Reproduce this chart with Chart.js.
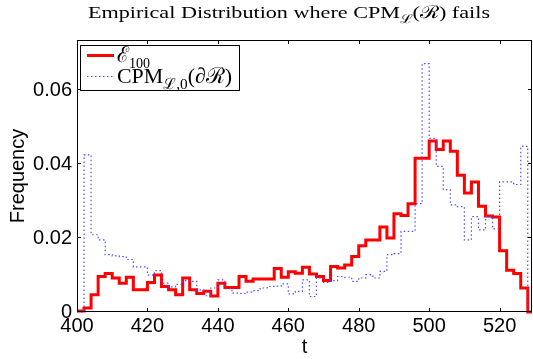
<!DOCTYPE html>
<html><head><meta charset="utf-8">
<script src="https://cdn.jsdelivr.net/npm/chart.js@4.4.0/dist/chart.umd.min.js"></script>
<style>html,body{margin:0;padding:0;background:#fff;}#wrap{width:533px;height:359px;}</style>
</head><body><div id="wrap"><canvas id="c" width="533" height="359"></canvas></div>
<script>
// ---- data ----
const binEdges = [400,402,404,406,408,410,412,414,416,418,420,422,424,426,428,430,432,434,436,438,
  440,442,444,446,448,450,452,454,456,458,460,462,464,466,468,470,472,474,476,478,
  480,482,484,486,488,490,492,494,496,498,500,502,504,506,508,510,512,514,516,518,
  520,522,524,526,528,530];
const e100 = [0.0003,0.0011,0.0047,0.0096,0.0104,0.0092,0.0078,0.0094,0.0060,0.0060,
  0.0080,0.0100,0.0069,0.0060,0.0047,0.0092,0.0060,0.0050,0.0056,0.0043,
  0.0078,0.0066,0.0066,0.0096,0.0083,0.0089,0.0089,0.0089,0.0118,0.0094,
  0.0109,0.0105,0.0121,0.0103,0.0096,0.0085,0.0123,0.0119,0.0127,0.0150,
  0.0179,0.0195,0.0195,0.0230,0.0200,0.0266,0.0261,0.0293,0.0416,0.0416,
  0.0463,0.0440,0.0463,0.0435,0.0370,0.0322,0.0352,0.0286,0.0260,0.0257,
  0.0166,0.0113,0.0104,0.0065,0];
const cpm = [0,0.0425,0.0209,0.0195,0.0155,0.0152,0.0150,0.0142,0.0122,0.0122,
  0.0100,0.0112,0.0078,0.0068,0.0075,0.0085,0.0083,0.0060,0.0044,0.0065,
  0.0087,0.0063,0.0051,0.0050,0.0054,0.0058,0.0065,0.0069,0.0070,0.0076,
  0.0049,0.0056,0.0087,0.0042,0.0092,0.0080,0.0085,0.0096,0.0094,0.0083,
  0.0092,0.0101,0.0092,0.0110,0.0155,0.0158,0.0218,0.0218,0.0293,0.0672,
  0.0470,0.0394,0.0331,0.0290,0.0285,0.0195,0.0258,0.0222,0.0258,0.0225,
  0.0352,0.0352,0.0345,0.0448,0];
const xTicks = [400,420,440,460,480,500,520];
const yTicks = [0,0.02,0.04,0.06];
const xRange = [400,529.2];
const yRange = [0,0.0736];

// step series: value i holds on [edge i, edge i+1]
function stepPoints(vals){
  const pts = vals.map((v,i)=>({x:binEdges[i], y:v}));
  pts.push({x:binEdges[vals.length], y:vals[vals.length-1]});
  return pts;
}

const SERIF = "'Liberation Serif','DejaVu Serif',serif";
const SANS = "'Liberation Sans',Arial,sans-serif";

// rich text (with subscripts) fitted to a target width
function drawRich(ctx, parts, x, baseline, targetW, em){
  let w = 0;
  const sized = parts.map(p=>{
    const size = em*(p.sub?0.7:1);
    ctx.font = size+'px '+SERIF;
    const mw = ctx.measureText(p.t).width;
    w += mw;
    return {t:p.t, size, mw, dy: p.sub? em*0.28 : 0};
  });
  const sx = targetW / w;
  ctx.save();
  ctx.translate(x, baseline);
  ctx.scale(sx, 1);
  ctx.fillStyle = '#000';
  ctx.textBaseline = 'alphabetic';
  ctx.textAlign = 'left';
  let cx = 0;
  sized.forEach(p=>{
    ctx.font = p.size+'px '+SERIF;
    ctx.fillText(p.t, cx, p.dy);
    cx += p.mw;
  });
  ctx.restore();
}

const decor = {
  id:'decor',
  afterDraw(chart){
    const ctx = chart.ctx, a = chart.chartArea, xs = chart.scales.x, ys = chart.scales.y;
    ctx.save();
    ctx.strokeStyle = '#000'; ctx.lineWidth = 1;
    ctx.strokeRect(a.left+0.5, a.top+0.5, a.right-a.left-1, a.bottom-a.top-1);
    const TL = 4;
    ctx.beginPath();
    xTicks.forEach(v=>{
      const px = Math.round(xs.getPixelForValue(v))+0.5;
      ctx.moveTo(px, a.bottom); ctx.lineTo(px, a.bottom-TL);
      ctx.moveTo(px, a.top); ctx.lineTo(px, a.top+TL);
    });
    yTicks.forEach(v=>{
      const py = Math.round(ys.getPixelForValue(v))-0.5;
      ctx.moveTo(a.left, py); ctx.lineTo(a.left+TL, py);
      ctx.moveTo(a.right, py); ctx.lineTo(a.right-TL, py);
    });
    ctx.stroke();

    // title
    drawRich(ctx, [{t:'Empirical Distribution where CPM'},{t:'\u2112',sub:true},{t:'(\u211B) fails'}], 88, 18, 402, 17.5);

    // legend box
    const lx = 80, ly = 45, lw = 159, lh = 45;
    ctx.fillStyle = '#fff';
    ctx.fillRect(lx, ly, lw, lh);
    ctx.strokeStyle = '#000'; ctx.lineWidth = 1;
    ctx.strokeRect(lx+0.5, ly+0.5, lw, lh);
    ctx.strokeStyle = '#ff0000'; ctx.lineWidth = 3;
    ctx.beginPath(); ctx.moveTo(87, 55.5); ctx.lineTo(114, 55.5); ctx.stroke();
    ctx.strokeStyle = '#4d4dff'; ctx.lineWidth = 1.2; ctx.setLineDash([1.5,2.5]);
    ctx.beginPath(); ctx.moveTo(87, 76.5); ctx.lineTo(114, 76.5); ctx.stroke();
    ctx.setLineDash([]);
    drawRich(ctx, [{t:'\u2130'},{t:'100',sub:true}], 117, 62, 33, 22);
    drawRich(ctx, [{t:'CPM'},{t:'\u2112,0',sub:true},{t:'(\u2202\u211B)'}], 117, 83, 115, 22);
    ctx.restore();
  }
};

new Chart(document.getElementById('c'), {
  type:'line',
  data:{datasets:[
    {label:'E100', data:stepPoints(e100), borderColor:'#ff0000', borderWidth:3, stepped:'before',
     pointRadius:0, fill:false, order:2, clip:{left:2,top:2,right:0,bottom:2}},
    {label:'CPM', data:stepPoints(cpm), borderColor:'#4d4dff', borderWidth:1.2, borderDash:[1.5,2.5],
     stepped:'before', pointRadius:0, fill:false, order:1, clip:{left:2,top:2,right:0,bottom:2}}
  ]},
  options:{
    animation:false, responsive:false, devicePixelRatio:1,
    layout:{padding:{top:40,right:1,left:0,bottom:0}},
    plugins:{legend:{display:false}, title:{display:false}, tooltip:{enabled:false}},
    scales:{
      x:{type:'linear', min:xRange[0], max:xRange[1],
        afterBuildTicks:s=>{s.ticks = xTicks.map(v=>({value:v}));},
        ticks:{font:{family:SANS,size:20}, color:'#000', padding:2, maxRotation:0, autoSkip:false,
          callback:v=>String(v)},
        grid:{display:false, drawTicks:false}, border:{display:false},
        title:{display:true, text:'t', font:{family:SANS,size:20}, color:'#000', padding:{top:0,bottom:0}},
        afterFit:s=>{s.height = 47; s.paddingLeft = 0; s.paddingRight = 0;}
      },
      y:{type:'linear', min:yRange[0], max:yRange[1],
        afterBuildTicks:s=>{s.ticks = yTicks.map(v=>({value:v}));},
        ticks:{font:{family:SANS,size:20}, color:'#000', padding:5,
          callback:v=> v===0 ? '0' : v.toFixed(2)},
        grid:{display:false, drawTicks:false}, border:{display:false},
        title:{display:true, text:'Frequency', font:{family:SANS,size:20}, color:'#000', padding:{top:6,bottom:0}},
        afterFit:s=>{s.width = 77; s.paddingTop = 0; s.paddingBottom = 0;}
      }
    }
  },
  plugins:[decor]
});
</script></body></html>
